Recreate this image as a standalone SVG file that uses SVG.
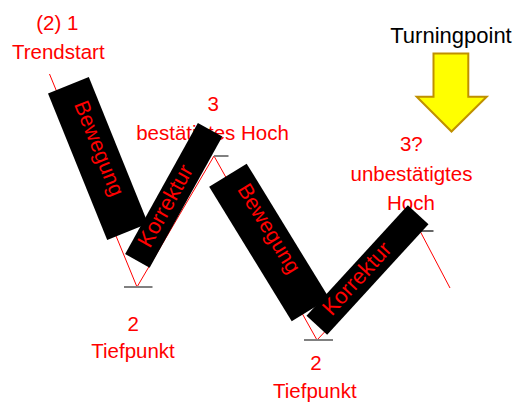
<svg xmlns="http://www.w3.org/2000/svg" width="515" height="406" viewBox="0 0 515 406">
<style>
.lbl{font-family:"Liberation Sans",Arial,sans-serif;font-size:20.5px;fill:#FF0000;text-anchor:middle}
.bar{fill:#000000}
.bt{font-family:"Liberation Sans",Arial,sans-serif;fill:#FF0000;text-anchor:middle}
.trend{fill:none;stroke:#FF0000;stroke-width:1}
.tickg{stroke:#808080;stroke-width:2}
.tickb{stroke:#000000;stroke-width:1.2}
</style>
<rect width="515" height="406" fill="#FFFFFF"/>
<g id="labels">
<text class="lbl" x="57.3" y="29.5">(2) 1</text>
<text class="lbl" x="58.3" y="59.3">Trendstart</text>
<text class="lbl" x="213.3" y="111">3</text>
<text class="lbl" x="212.5" y="140">bestätigtes Hoch</text>
<text class="lbl" x="411.3" y="150.5">3?</text>
<text class="lbl" x="411.5" y="180.5">unbestätigtes</text>
<text class="lbl" x="411" y="210">Hoch</text>
<text class="lbl" x="133.3" y="330.7">2</text>
<text class="lbl" x="133" y="358.3">Tiefpunkt</text>
<text class="lbl" x="316" y="370">2</text>
<text class="lbl" x="314.8" y="398.3">Tiefpunkt</text>
</g>
<g id="connectors">
<polyline class="trend" points="49.5,74 137,287 214,156 317,340 420,231 450,288"/>
<line class="tickg" x1="124" y1="287" x2="152.5" y2="287"/>
<line class="tickg" x1="214" y1="156" x2="228.5" y2="156"/>
<line class="tickg" x1="304" y1="340" x2="333" y2="340"/>
<line class="tickb" x1="420" y1="231" x2="433.5" y2="231"/>
</g>
<g id="bewegung1" transform="translate(98,158.5) rotate(-22)">
<rect class="bar" x="-22" y="-79" width="44" height="158"/>
<text class="bt" font-size="21.3" transform="rotate(90)" x="-9" y="2.3">Bewegung</text>
</g>
<g id="korrektur1" transform="translate(173.75,195.3) rotate(29)">
<rect class="bar" x="-14" y="-75" width="28" height="150"/>
<text class="bt" font-size="22" transform="rotate(-90)" x="-13.3" y="5">Korrektur</text>
</g>
<g id="bewegung2" transform="translate(269.2,242.5) rotate(-31.5)">
<rect class="bar" x="-22" y="-79" width="44" height="158"/>
<text class="bt" font-size="21.3" transform="rotate(90)" x="-12" y="0">Bewegung</text>
</g>
<g id="korrektur2" transform="translate(367.5,270) rotate(42.5)">
<rect class="bar" x="-14" y="-75" width="28" height="150"/>
<text class="bt" font-size="22" transform="rotate(-90)" x="-13.5" y="5.2">Korrektur</text>
</g>
<g id="turningpoint">
<text x="451" y="42.5" font-family="'Liberation Sans',Arial,sans-serif" font-size="22" fill="#000000" text-anchor="middle">Turningpoint</text>
<polygon points="433.5,53.5 468.3,53.5 468.3,96.7 486.7,96.7 451.5,131.5 416.7,96.7 433.5,96.7" fill="#FFFF00" stroke="#BF9000" stroke-width="2" stroke-linejoin="miter"/>
</g>
</svg>
